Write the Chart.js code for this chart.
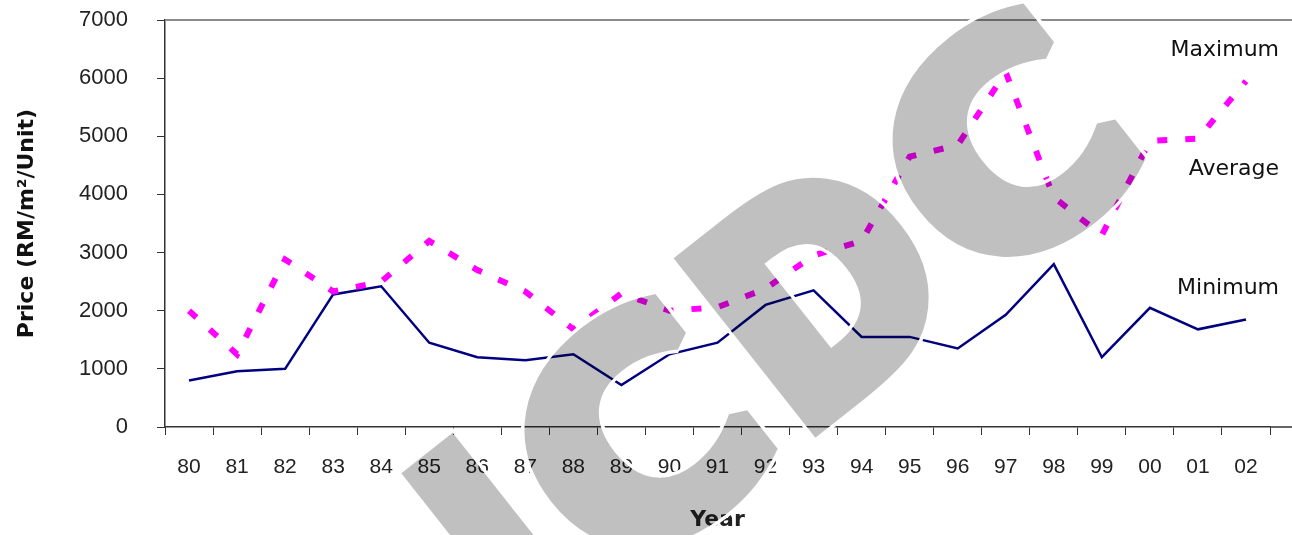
<!DOCTYPE html>
<html>
<head>
<meta charset="utf-8">
<script src="https://cdn.jsdelivr.net/npm/chart.js@4/dist/chart.umd.min.js"></script>
<style>
  html, body { margin: 0; padding: 0; background: #fff; }
  #wrap { width: 1292px; height: 535px; }
</style>
</head>
<body>
<div id="wrap"><canvas id="price-chart"></canvas></div>
<script>
const years = ["80", "81", "82", "83", "84", "85", "86", "87", "88", "89", "90", "91",
               "92", "93", "94", "95", "96", "97", "98", "99", "00", "01", "02"];
const maximumPrices = [2000, 1250, 2880, 2330, 2500, 3200, 2700, 2330, 1680, 2300, 2000, 2060,
                       2380, 2950, 3200, 4650, 4850, 6100, 3950, 3300, 4920, 4960, 5950];
const minimumPrices = [800, 960, 1000, 2280, 2420, 1450, 1200, 1150, 1250, 720, 1250, 1450,
                       2100, 2350, 1550, 1550, 1350, 1930, 2800, 1200, 2050, 1680, 1850];
const yTicks = [0, 1000, 2000, 3000, 4000, 5000, 6000, 7000];
const seriesLabels = ["Maximum", "Average", "Minimum"];
const seriesLabelY = [50, 169, 288];

// watermark letters, boxes given along / across the tilted baseline
const markLetters = ["I", "C", "D", "C"];
const markAlong = [[-347, -281], [-248, -36], [0, 200], [221, 433]];
const markUp = [[0, 229], [-5, 232], [0, 229], [-5, 232]];

const decorPlugin = {
    id: "decor",
    afterDraw(chart) {
        const ctx = chart.ctx;
        const area = chart.chartArea;
        const w = chart.width;
        ctx.save();
        ctx.strokeStyle = "#8c8c8c";
        ctx.lineWidth = 2;
        ctx.beginPath();
        ctx.moveTo(area.left, area.top);
        ctx.lineTo(w, area.top);
        ctx.stroke();
        ctx.strokeStyle = "#333";
        ctx.lineWidth = 1.5;
        ctx.beginPath();
        ctx.moveTo(area.right, area.bottom);
        ctx.lineTo(w, area.bottom);
        ctx.stroke();

        ctx.fillStyle = "#111";
        ctx.font = '22px "DejaVu Sans"';
        ctx.textAlign = "right";
        ctx.textBaseline = "middle";
        for (let i = 0; i < seriesLabels.length; i++)
            ctx.fillText(seriesLabels[i], 1279, seriesLabelY[i]);
        ctx.restore();

        drawWatermark(chart);
    }
};

function placeLetter(c, ch, i, sw) {
    const m = c.measureText(ch);
    const left = -m.actualBoundingBoxLeft - sw / 2;
    const right = m.actualBoundingBoxRight + sw / 2;
    const top = -m.actualBoundingBoxAscent - sw / 2;
    const bottom = m.actualBoundingBoxDescent + sw / 2;
    const [a, b] = markAlong[i];
    const [lo, hi] = markUp[i];
    const sx = (b - a) / (right - left);
    const sy = (hi - lo) / (bottom - top);
    c.translate(a, -hi);
    c.scale(sx, sy);
    c.translate(-left, -top);
    return (sx + sy) / 2;
}

function drawWatermark(chart) {
    const ctx = chart.ctx;
    const dpr = chart.currentDevicePixelRatio;
    const angle = Math.atan2(-0.62, 0.785);
    const font = 'bold 200px "DejaVu Sans"';
    const sw = 14;

    const body = document.createElement("canvas");
    const rim = document.createElement("canvas");
    body.width = rim.width = chart.canvas.width;
    body.height = rim.height = chart.canvas.height;
    const o = body.getContext("2d");
    const r = rim.getContext("2d");

    for (let i = 0; i < markLetters.length; i++) {
        const ch = markLetters[i];
        for (const c of [o, r]) {
            c.save();
            c.scale(dpr, dpr);
            c.translate(815, 438);
            c.rotate(angle);
            c.font = font;
            c.textBaseline = "alphabetic";
            c.lineJoin = "miter";
            c.miterLimit = 2;
            const s = placeLetter(c, ch, i, sw);
            if (c === r) {
                // thin white edge just outside the letter
                c.strokeStyle = "#fff";
                c.lineWidth = sw + 7 / s;
                c.strokeText(ch, 0, 0);
                c.globalCompositeOperation = "destination-out";
            }
            c.fillStyle = "#c0c0c0";
            c.strokeStyle = "#c0c0c0";
            c.lineWidth = sw;
            c.fillText(ch, 0, 0);
            c.strokeText(ch, 0, 0);
            c.restore();
        }
    }

    ctx.save();
    ctx.setTransform(1, 0, 0, 1, 0, 0);
    ctx.drawImage(rim, 0, 0);
    ctx.globalCompositeOperation = "multiply";
    ctx.drawImage(body, 0, 0);
    ctx.restore();
}

new Chart("price-chart", {
    type: "line",
    data: {
        labels: years,
        datasets: [
            {
                label: "Maximum",
                data: maximumPrices,
                borderColor: "#ff00ff",
                borderWidth: 6,
                borderDash: [10, 18],
                borderCapStyle: "butt",
                pointRadius: 0,
                tension: 0,
                fill: false
            },
            {
                label: "Minimum",
                data: minimumPrices,
                borderColor: "#000080",
                borderWidth: 2.5,
                pointRadius: 0,
                tension: 0,
                fill: false
            }
        ]
    },
    options: {
        responsive: true,
        maintainAspectRatio: false,
        animation: false,
        layout: { padding: { top: 20, right: 22, left: 0, bottom: 0 } },
        plugins: {
            legend: { display: false },
            tooltip: { enabled: false }
        },
        scales: {
            x: {
                offset: true,
                grid: { drawOnChartArea: false, offset: true, tickLength: 8, color: "#333" },
                border: { color: "#333", width: 1.5 },
                ticks: {
                    font: { family: "Liberation Sans", size: 21 },
                    color: "#222",
                    padding: 20,
                    maxRotation: 0,
                    autoSkip: false
                },
                title: {
                    display: true,
                    text: "Year",
                    color: "#222",
                    font: { family: "DejaVu Sans", size: 22, weight: "bold" },
                    padding: { top: 0, bottom: 2 }
                },
                afterFit(scale) { scale.height = 108; }
            },
            y: {
                min: 0,
                max: 7000,
                afterBuildTicks(scale) { scale.ticks = yTicks.map(v => ({ value: v })); },
                grid: { drawOnChartArea: false, tickLength: 8, color: "#333" },
                border: { color: "#333", width: 1.5 },
                ticks: {
                    font: { family: "Liberation Sans", size: 22 },
                    color: "#222",
                    padding: 29,
                    callback: v => String(v)
                },
                title: {
                    display: true,
                    text: "Price (RM/m²/Unit)",
                    color: "#111",
                    font: { family: "DejaVu Sans", size: 22, weight: "bold" },
                    padding: { top: 14, bottom: 0 }
                },
                afterFit(scale) {
                    scale.width = 165;
                    scale.paddingTop = 0;
                    scale.paddingBottom = 0;
                }
            }
        }
    },
    plugins: [decorPlugin]
});
</script>
</body>
</html>
